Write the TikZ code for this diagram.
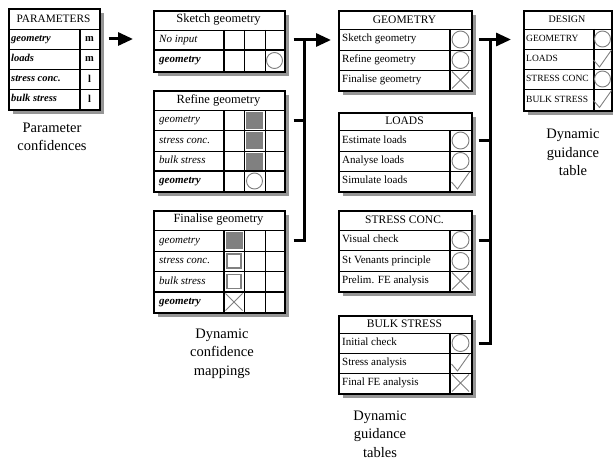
\documentclass[tikz,border=0pt]{standalone}
\usepackage{fontspec}
\setmainfont{Liberation Serif}
\usetikzlibrary{arrows.meta,positioning}

\definecolor{shadowgray}{RGB}{150,150,150}

\tikzset{
  tablebox/.style={draw, line width=1.6pt, fill=white, inner sep=0pt, anchor=north west},
  rule/.style={line width=0.8pt},
  sep/.style={line width=1.6pt},
  icon/.style={draw=black!50, line width=0.9pt},
  bigarrow/.style={line width=3pt, -{Triangle[length=15pt,width=13pt]}},
  bracket/.style={line width=3pt},
  caption/.style={font=\fontsize{14.5}{18.5}\selectfont, align=center},
  title/.style={font=\fontsize{12.5}{14}\selectfont},
  guidetitle/.style={font=\fontsize{11.5}{13}\selectfont},
  rowlabel/.style={anchor=west, inner sep=0pt, text height=7.5pt, text depth=2.5pt,
    font=\fontsize{11}{13}\selectfont\itshape},
  outlabel/.style={font=\fontsize{11}{13}\selectfont\bfseries\itshape},
  guidelabel/.style={anchor=west, inner sep=0pt, text height=7.5pt, text depth=2.5pt,
    font=\fontsize{11}{13}\selectfont},
}

\newcommand\markcircle[2][8]{\draw[icon] (#2) circle (#1pt);}
\newcommand\markcheck[1]{\draw[icon, shift={(#1)}] (-9,1) -- (-3,8) -- (9,-9);}
\newcommand\markcross[1]{\draw[icon, shift={(#1)}] (-8.5,-8.5) -- (8.5,8.5) (-8.5,8.5) -- (8.5,-8.5);}
\newcommand\markfull[1]{\fill[black!50, shift={(#1)}] (-8.5,-8.5) rectangle (8.5,8.5);}
\newcommand\markempty[1]{\draw[icon, line width=1.5pt, shift={(#1)}] (-7,-7) rectangle (7,7);}

\begin{document}
\begin{tikzpicture}[x=1pt,y=-1pt]
  \useasboundingbox (0,0) rectangle (613,460);

  % shadows behind the tables
  \fill[shadowgray] (13,13) rectangle (104,114);
  \fill[shadowgray] (158,15) rectangle (289,76);
  \fill[shadowgray] (158,95) rectangle (289,196);
  \fill[shadowgray] (158,215) rectangle (289,317);
  \fill[shadowgray] (343,15) rectangle (476,95);
  \fill[shadowgray] (343,117) rectangle (476,196);
  \fill[shadowgray] (343,215) rectangle (476,296);
  \fill[shadowgray] (343,320) rectangle (476,398);
  \fill[shadowgray] (528,15) rectangle (616,115);

  % parameter confidences
  \node[tablebox, minimum width=91pt, minimum height=101pt] (params) at (8,8) {};
  \foreach \y in {29,49,69,89} \draw[rule] (8,\y) -- (99,\y);
  \draw[sep] (80,29) -- (80,109);
  \node[font=\fontsize{11.3}{13}\selectfont] at (53.5,18.5) {PARAMETERS};
  \foreach \y/\t/\v [count=\i] in {39/geometry/m, 59/loads/m, 79/stress conc./l, 99/bulk stress/l} {
    \node[rowlabel, font=\fontsize{10.5}{12}\selectfont\bfseries\itshape] (par\i) at (11,\y) {\t};
    \node[font=\fontsize{10.5}{12}\selectfont\bfseries] at (89.5,\y) {\v};
  }
  \node[caption] (capparams) at (52,137) {Parameter\\confidences};

  % sketch geometry
  \node[tablebox, minimum width=131pt, minimum height=61pt] (sketch) at (153,10) {};
  \draw[rule] (153,30) -- (284,30);
  \draw[sep] (153,50) -- (284,50);
  \draw[sep] (224,30) -- (224,71);
  \foreach \x in {244,265} \draw[rule] (\x,30) -- (\x,71);
  \node[title] at (218.5,20) {Sketch geometry};
  \node[rowlabel] (sk1) at (159,40) {No input};
  \node[rowlabel, outlabel] (sk2) at (159,60.5) {geometry};
  \markcircle{274.5,60.5}

  % refine geometry
  \node[tablebox, minimum width=131pt, minimum height=101pt] (refine) at (153,90) {};
  \foreach \y in {110,130,151} \draw[rule] (153,\y) -- (284,\y);
  \draw[sep] (153,171) -- (284,171);
  \draw[sep] (224,110) -- (224,191);
  \foreach \x in {244,265} \draw[rule] (\x,110) -- (\x,191);
  \node[title] at (218.5,100) {Refine geometry};
  \foreach \y/\t [count=\i] in {120/geometry, 140.5/stress conc., 161/bulk stress} {
    \node[rowlabel] (rf\i) at (159,\y) {\t};
    \markfull{254.5,\y}
  }
  \node[rowlabel, outlabel] (rf4) at (159,181) {geometry};
  \markcircle{254.5,181}

  % finalise geometry
  \node[tablebox, minimum width=131pt, minimum height=102pt] (finalise) at (153,210) {};
  \foreach \y in {230,251,271} \draw[rule] (153,\y) -- (284,\y);
  \draw[sep] (153,292) -- (284,292);
  \draw[sep] (224,230) -- (224,312);
  \foreach \x in {244,265} \draw[rule] (\x,230) -- (\x,312);
  \node[title] at (218.5,220) {Finalise geometry};
  \node[rowlabel] (fn1) at (159,240.5) {geometry};
  \node[rowlabel] (fn2) at (159,261) {stress conc.};
  \node[rowlabel] (fn3) at (159,281.5) {bulk stress};
  \node[rowlabel, outlabel] (fn4) at (159,302) {geometry};
  \markfull{234,240.5}
  \markempty{234,261}
  \markempty{234,281.5}
  \markcross{234,302}
  \node[caption] (capmaps) at (222,353.5) {Dynamic\\confidence\\mappings};

  % guidance tables
  \node[tablebox, minimum width=133pt, minimum height=80pt] (geom) at (338,10) {};
  \foreach \y in {29,50,70} \draw[rule] (338,\y) -- (471,\y);
  \draw[sep] (450,29) -- (450,90);
  \node[guidetitle] at (404.5,19.5) {GEOMETRY};
  \foreach \y/\t [count=\i] in {39.5/Sketch geometry, 60/Refine geometry, 80/Finalise geometry}
    \node[guidelabel] (gm\i) at (342,\y) {\t};
  \markcircle[8.5]{460.5,39.5}
  \markcircle[8.5]{460.5,60}
  \markcross{460.5,80}

  \node[tablebox, minimum width=133pt, minimum height=79pt] (loads) at (338,112) {};
  \foreach \y in {130,151,171} \draw[rule] (338,\y) -- (471,\y);
  \draw[sep] (450,130) -- (450,191);
  \node[guidetitle] at (404.5,121) {LOADS};
  \foreach \y/\t [count=\i] in {140.5/Estimate loads, 161/Analyse loads, 181/Simulate loads}
    \node[guidelabel] (ld\i) at (342,\y) {\t};
  \markcircle[8.5]{460.5,140.5}
  \markcircle[8.5]{460.5,161}
  \markcheck{460.5,181}

  \node[tablebox, minimum width=133pt, minimum height=81pt] (stress) at (338,210) {};
  \foreach \y in {230,250.5,271} \draw[rule] (338,\y) -- (471,\y);
  \draw[sep] (450,230) -- (450,291);
  \node[guidetitle] at (404.5,220) {STRESS CONC.};
  \foreach \y/\t [count=\i] in {240/Visual check, 261/St Venants principle, 281/Prelim. FE analysis}
    \node[guidelabel] (sc\i) at (342,\y) {\t};
  \markcircle[8.5]{460.5,240}
  \markcircle[8.5]{460.5,261}
  \markcross{460.5,281}

  \node[tablebox, minimum width=133pt, minimum height=78pt] (bulk) at (338,315) {};
  \foreach \y in {333,353,373} \draw[rule] (338,\y) -- (471,\y);
  \draw[sep] (450,333) -- (450,393);
  \node[guidetitle] at (404.5,324) {BULK STRESS};
  \foreach \y/\t [count=\i] in {343/Initial check, 363/Stress analysis, 383/Final FE analysis}
    \node[guidelabel] (bs\i) at (342,\y) {\t};
  \markcircle[8.5]{460.5,343}
  \markcheck{460.5,363}
  \markcross{460.5,383}
  \node[caption] (capguide) at (380,434) {Dynamic\\guidance\\tables};

  % design table
  \node[tablebox, minimum width=88pt, minimum height=100pt] (design) at (523,10) {};
  \foreach \y in {29,49,69,89} \draw[rule] (523,\y) -- (611,\y);
  \draw[sep] (594,29) -- (594,110);
  \node[font=\fontsize{10}{12}\selectfont] at (567,19.5) {DESIGN};
  \foreach \y/\t [count=\i] in {39/GEOMETRY, 59/LOADS, 79/STRESS CONC, 99.5/BULK STRESS}
    \node[guidelabel, font=\fontsize{9.5}{11}\selectfont] (ds\i) at (526,\y) {\t};
  \markcircle{602.5,39}
  \markcheck{602.5,59}
  \markcircle{602.5,79}
  \markcheck{602.5,99.5}
  \node[caption] (capdesign) at (573,152.5) {Dynamic\\guidance\\table};

  % connectors
  \coordinate (lbar) at (304,40);
  \coordinate (rbar) at (490,40);
  \draw[bigarrow, shorten <=8pt, shorten >=20pt] (params.east |- par1) -- (sketch.west |- par1);
  \draw[bigarrow, shorten <=8pt, shorten >=7pt] (sketch.east |- sk1) -- (geom.west |- sk1);
  \draw[bracket, shorten <=8pt] (finalise.east |- fn1) -- (lbar |- fn1) -- (lbar |- sk1);
  \draw[bracket, shorten <=8pt] (refine.east |- rf1) -- (lbar |- rf1);
  \draw[bigarrow, shorten <=6pt, shorten >=12pt] (geom.east |- gm1) -- (design.west |- gm1);
  \draw[bracket, shorten <=6pt] (bulk.east |- bs1) -- (rbar |- bs1) -- (rbar |- gm1);
  \draw[bracket, shorten <=6pt] (loads.east |- ld1) -- (rbar |- ld1);
  \draw[bracket, shorten <=6pt] (stress.east |- sc1) -- (rbar |- sc1);
\end{tikzpicture}
\end{document}
